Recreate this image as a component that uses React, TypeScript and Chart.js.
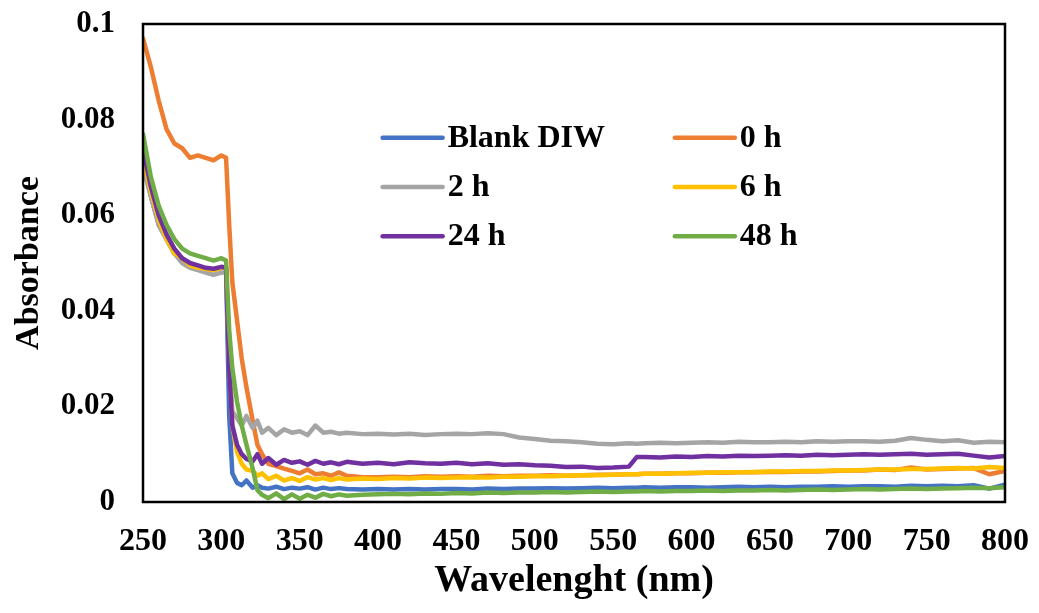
import React, { useEffect, useRef } from "react";
import { Chart, registerables } from "chart.js";

Chart.register(...registerables);

const wavelengths = [
  250, 255, 260, 265, 270, 275, 280, 285, 290, 295,
  300, 303, 305, 307, 310, 313, 316, 320, 323, 326,
  330, 335, 340, 345, 350, 355, 360, 365, 370, 375,
  380, 390, 400, 410, 420, 430, 440, 450, 460, 470,
  480, 490, 500, 510, 520, 530, 540, 550, 560, 565,
  570, 580, 590, 600, 610, 620, 630, 640, 650, 660,
  670, 680, 690, 700, 710, 720, 730, 740, 750, 760,
  770, 780, 790, 800,
];

const blankDIW = [
  0.071, 0.064, 0.058, 0.055, 0.052, 0.0505, 0.0495, 0.049, 0.0488, 0.0485,
  0.049, 0.049, 0.018, 0.006, 0.004, 0.0035, 0.0045, 0.003, 0.0035, 0.003,
  0.0028, 0.0032, 0.0027, 0.003, 0.0028, 0.0031, 0.0026, 0.003, 0.0027, 0.0029,
  0.0027, 0.0026, 0.0027, 0.0026, 0.0027, 0.0026, 0.0027, 0.0027, 0.0026, 0.0028,
  0.0027, 0.0028, 0.0028, 0.0029, 0.0028, 0.0029, 0.003, 0.0029, 0.003, 0.003,
  0.0031, 0.003, 0.0031, 0.0031, 0.003, 0.0031, 0.0032, 0.0031, 0.0032, 0.0031,
  0.0032, 0.0032, 0.0033, 0.0032, 0.0033, 0.0033, 0.0032, 0.0034, 0.0033, 0.0034,
  0.0033, 0.0035, 0.0028, 0.0036,
];

const h0 = [
  0.097, 0.091, 0.084, 0.078, 0.075, 0.074, 0.072, 0.0725, 0.072, 0.0715,
  0.0725, 0.072, 0.058, 0.046, 0.038, 0.03, 0.024, 0.017, 0.012, 0.01,
  0.008, 0.0075, 0.007, 0.0065, 0.006, 0.0068, 0.0058, 0.006, 0.0055, 0.0062,
  0.0055, 0.0052, 0.0052, 0.0053, 0.0052, 0.0054, 0.0053, 0.0054, 0.0053, 0.0055,
  0.0054, 0.0055, 0.0055, 0.0056, 0.0055, 0.0056, 0.0057, 0.0057, 0.0058, 0.0058,
  0.0059, 0.0059, 0.006, 0.006, 0.0061, 0.0061, 0.0062, 0.0062, 0.0063, 0.0063,
  0.0064, 0.0064, 0.0065, 0.0066, 0.0066, 0.0068, 0.0067, 0.0072, 0.0068, 0.0069,
  0.007, 0.0071, 0.0058, 0.0065,
];

const h2 = [
  0.07, 0.064, 0.058, 0.055, 0.052, 0.05, 0.049, 0.0485, 0.048, 0.0475,
  0.048, 0.048, 0.03, 0.019, 0.0175, 0.016, 0.018, 0.0155, 0.017, 0.0145,
  0.0155, 0.014, 0.0152, 0.0145, 0.0148, 0.014, 0.016, 0.0145, 0.0147, 0.0143,
  0.0145, 0.0142, 0.0143, 0.0141, 0.0143, 0.014, 0.0142, 0.0143, 0.0142, 0.0144,
  0.0142, 0.0135, 0.0132, 0.0128, 0.0127, 0.0125, 0.0122, 0.0121, 0.0123, 0.0122,
  0.0123, 0.0124, 0.0123, 0.0124, 0.0125, 0.0124, 0.0126, 0.0125, 0.0125, 0.0126,
  0.0125, 0.0127, 0.0126, 0.0127, 0.0127, 0.0126, 0.0128, 0.0134, 0.013, 0.0127,
  0.0129, 0.0124, 0.0126, 0.0125,
];

const h6 = [
  0.072, 0.065, 0.059, 0.055, 0.052, 0.051, 0.0495, 0.049, 0.0488, 0.0485,
  0.049, 0.049, 0.029, 0.016, 0.0105, 0.008, 0.0068, 0.0065, 0.0055, 0.006,
  0.0048, 0.0055, 0.0045, 0.005, 0.0044, 0.0052, 0.0047, 0.005, 0.0046, 0.005,
  0.0047, 0.0049, 0.0048, 0.005, 0.0049, 0.0051, 0.005, 0.0051, 0.0052, 0.0051,
  0.0053, 0.0053, 0.0054, 0.0054, 0.0055, 0.0056, 0.0056, 0.0057, 0.0058, 0.0058,
  0.0059, 0.0059, 0.006, 0.0061, 0.0061, 0.0062, 0.0062, 0.0063, 0.0064, 0.0064,
  0.0065, 0.0065, 0.0066, 0.0066, 0.0067, 0.0068, 0.0068, 0.0069, 0.0069, 0.007,
  0.0071, 0.007, 0.0073, 0.0071,
];

const h24 = [
  0.074, 0.066, 0.06, 0.056, 0.053, 0.051, 0.05, 0.0495, 0.049, 0.0488,
  0.0492, 0.049, 0.028, 0.016, 0.012, 0.01, 0.009, 0.0085, 0.01, 0.008,
  0.0092, 0.0078, 0.0088, 0.0082, 0.0085, 0.0078, 0.0086, 0.008, 0.0083, 0.0079,
  0.0084, 0.008, 0.0082, 0.0079, 0.0083, 0.0081, 0.008, 0.0082, 0.0079, 0.0081,
  0.0078, 0.0079, 0.0077, 0.0076, 0.0073, 0.0074, 0.0071, 0.0072, 0.0074, 0.0094,
  0.0094, 0.0093, 0.0095, 0.0094, 0.0096, 0.0095, 0.0097, 0.0096, 0.0097, 0.0098,
  0.0097, 0.0099, 0.0098, 0.0099, 0.01, 0.0099, 0.01, 0.0101, 0.0099, 0.01,
  0.0101, 0.0097, 0.0093, 0.0096,
];

const h48 = [
  0.077, 0.068, 0.062, 0.058, 0.055, 0.053, 0.052, 0.0515, 0.051, 0.0505,
  0.051, 0.0505, 0.036, 0.028, 0.021, 0.016, 0.012, 0.007, 0.0025, 0.0015,
  0.0008, 0.0018, 0.0006, 0.0016, 0.0007, 0.0015, 0.0009, 0.0017, 0.0012, 0.0016,
  0.0013, 0.0015, 0.0016, 0.0017, 0.0016, 0.0018, 0.0017, 0.0019, 0.0018, 0.002,
  0.0019, 0.002, 0.002, 0.0021, 0.002, 0.0021, 0.0022, 0.0021, 0.0022, 0.0022,
  0.0023, 0.0022, 0.0023, 0.0023, 0.0024, 0.0023, 0.0024, 0.0024, 0.0025, 0.0024,
  0.0025, 0.0026, 0.0025, 0.0026, 0.0027, 0.0026, 0.0027, 0.0028, 0.0027, 0.0028,
  0.0029, 0.003, 0.0029, 0.0031,
];

const seriesLabels = ["Blank DIW", "0 h", "2 h", "6 h", "24 h", "48 h"];
const seriesColors = ["#4472C4", "#ED7D31", "#A5A5A5", "#FFC000", "#7030A0", "#70AD47"];
const seriesValues = [blankDIW, h0, h2, h6, h24, h48];

const xTitle = "Wavelenght (nm)";
const yTitle = "Absorbance";

const FONT = "'Times New Roman', 'Liberation Serif', serif";

const frameAndLegend = {
  id: "frameAndLegend",
  afterDraw(chart: any) {
    const { ctx, chartArea } = chart;
    const { left, top, right, bottom } = chartArea;
    const w = right - left;
    const h = bottom - top;
    ctx.save();
    ctx.strokeStyle = "#000";
    ctx.lineWidth = 2.5;
    ctx.strokeRect(left, top, w, h);

    const cols = [left + 0.278 * w, left + 0.617 * w];
    const rows = [top + 0.238 * h, top + 0.341 * h, top + 0.444 * h];
    ctx.font = `bold 32px ${FONT}`;
    ctx.textBaseline = "middle";
    ctx.textAlign = "left";
    chart.data.datasets.forEach((ds: any, i: number) => {
      const cx = cols[i % 2];
      const cy = rows[Math.floor(i / 2)];
      ctx.strokeStyle = ds.borderColor;
      ctx.lineWidth = 4.5;
      ctx.lineCap = "round";
      ctx.beginPath();
      ctx.moveTo(cx, cy);
      ctx.lineTo(cx + 60, cy);
      ctx.stroke();
      ctx.fillStyle = "#000";
      ctx.fillText(ds.label, cx + 65, cy + 1);
    });
    ctx.restore();
  },
};

export default function App() {
  const ref = useRef<HTMLCanvasElement | null>(null);

  useEffect(() => {
    if (!ref.current) return;
    const datasets = seriesValues.map((vals, i) => ({
      label: seriesLabels[i],
      data: wavelengths.map((x, j) => ({ x, y: vals[j] })),
      borderColor: seriesColors[i],
      backgroundColor: seriesColors[i],
      borderWidth: 4.5,
      pointRadius: 0,
      tension: 0,
      fill: false,
      order: seriesValues.length - i,
      borderJoinStyle: "round" as const,
      borderCapStyle: "round" as const,
    }));

    const chart = new Chart(ref.current, {
      type: "line",
      data: { datasets },
      options: {
        animation: false,
        responsive: true,
        maintainAspectRatio: false,
        layout: { padding: { left: 0, top: 24, right: 34, bottom: 0 } },
        plugins: {
          legend: { display: false },
          tooltip: { enabled: false },
        },
        scales: {
          x: {
            type: "linear",
            min: 250,
            max: 800,
            grid: { display: false, drawTicks: true, tickLength: 21 },
            border: { display: true, color: "#000", width: 2 },
            ticks: {
              stepSize: 50,
              padding: 0,
              color: "#000",
              font: { family: FONT, size: 32, weight: "bold" },
              maxRotation: 0,
            },
            title: {
              display: true,
              text: xTitle,
              color: "#000",
              font: { family: FONT, size: 38, weight: "bold" },
              padding: { top: 4, bottom: 9 },
            },
            afterFit: (scale: any) => {
              scale.height = 111;
              scale.paddingLeft = 0;
              scale.paddingRight = 0;
            },
          },
          y: {
            type: "linear",
            min: 0,
            max: 0.1,
            grid: { display: false, drawTicks: true, tickLength: 28 },
            border: { display: true, color: "#000", width: 2 },
            ticks: {
              stepSize: 0.02,
              padding: 0,
              color: "#000",
              font: { family: FONT, size: 31, weight: "bold" },
              callback: (v: any) => String(parseFloat(Number(v).toFixed(2))),
            },
            title: {
              display: true,
              text: yTitle,
              color: "#000",
              font: { family: FONT, size: 34, weight: "bold" },
              padding: { top: 9, bottom: 4 },
            },
            afterFit: (scale: any) => {
              scale.width = 143;
              scale.paddingTop = 0;
              scale.paddingBottom = 0;
            },
          },
        },
      },
      plugins: [frameAndLegend],
    });
    return () => chart.destroy();
  }, []);

  return (
    <div style={{ position: "absolute", left: 0, top: 0, width: 1039, height: 613, background: "#fff" }}>
      <canvas ref={ref} />
    </div>
  );
}
